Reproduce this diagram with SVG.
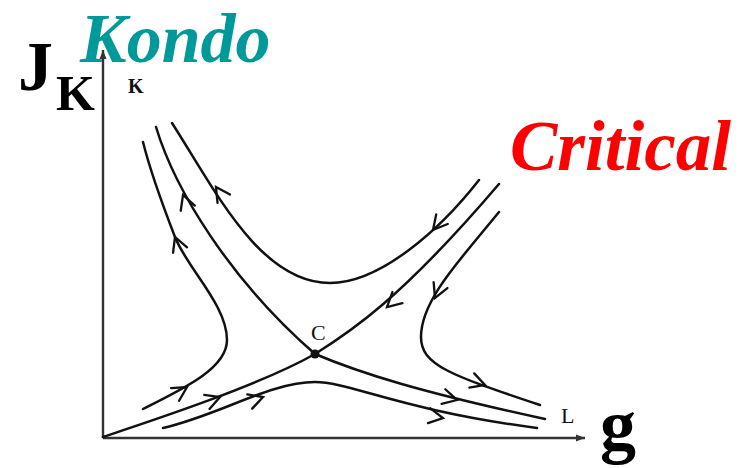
<svg xmlns="http://www.w3.org/2000/svg" width="746" height="468" viewBox="0 0 746 468">
<style>
.curve{fill:none;stroke:#111;stroke-width:2.5;stroke-linecap:round}
.arr{fill:none;stroke:none}
.axis{fill:none;stroke:#333;stroke-width:2.4}
.big{font-family:"Liberation Serif","Times New Roman",serif;font-weight:bold}
.small{font-family:"Liberation Serif","Times New Roman",serif;fill:#111}
</style>
<defs>
<marker id="a" markerUnits="userSpaceOnUse" viewBox="-16 -10 18 20" markerWidth="18" markerHeight="20" refX="0" refY="0" orient="auto" overflow="visible">
<path d="M-14,-7.5 L0,0 L-14,7.5" fill="none" stroke="#111" stroke-width="2.3" stroke-linecap="round" stroke-linejoin="miter"/>
</marker>
<marker id="t" markerUnits="userSpaceOnUse" viewBox="-8 -4 9 8" markerWidth="9" markerHeight="8" refX="0" refY="0" orient="auto" overflow="visible">
<path d="M-9,-3.5 L0,0 L-9,3.5 Z" fill="#333"/>
</marker>
</defs>
<g id="axes">
<path class="axis" d="M103,438 L103,50" marker-end="url(#t)"/>
<path class="axis" d="M103,438 L585,438" marker-end="url(#t)"/>
</g>
<g id="connectors">
<path class="curve" d="M143,409 C185,388 227,368 227,340 C227,305 187,268 175,237 C163,206 150,170 143,142"/>
<path class="curve" d="M156,127 C175,190 230,280 315,354 C360,373 420,392 545,419"/>
<path class="curve" d="M103,437 C160,418 260,385 315,354 C350,332 400,300 499,184"/>
<path class="curve" d="M172,123 C215,190 260,283 330,283 C380,283 440,230 479,180"/>
<path class="curve" d="M499,212 C460,260 421,300 421,337 C421,365 450,375 540,405"/>
<path class="curve" d="M163,428 C220,415 270,382 315,382 C350,382 400,410 537,428"/>
<path class="arr" d="M176.2,240.1 L175,237" marker-end="url(#a)"/>
<path class="arr" d="M183.8,389 L187,387" marker-end="url(#a)"/>
<path class="arr" d="M184.2,198.3 L183,195" marker-end="url(#a)"/>
<path class="arr" d="M218,190 L216,187" marker-end="url(#a)"/>
<path class="arr" d="M435.5,227 L433,230" marker-end="url(#a)"/>
<path class="arr" d="M390,304.3 L387,307" marker-end="url(#a)"/>
<path class="arr" d="M216.5,398.3 L220,397" marker-end="url(#a)"/>
<path class="arr" d="M436.5,294.5 L435,298" marker-end="url(#a)"/>
<path class="arr" d="M481.5,383.8 L485,385" marker-end="url(#a)"/>
<path class="arr" d="M453.5,399.1 L457,400" marker-end="url(#a)"/>
<path class="arr" d="M259.5,398.2 L263,397" marker-end="url(#a)"/>
<path class="arr" d="M439.4,417.4 L443,418" marker-end="url(#a)"/>
</g>
<g id="point-C">
<circle cx="315" cy="354" r="4.5" fill="#111"/>
<text class="small" x="311" y="340" font-size="22">C</text>
</g>
<g id="label-K-axis"><text class="small" x="128" y="93" font-size="20" font-weight="bold">K</text></g>
<g id="label-L"><text class="small" x="561" y="423" font-size="22">L</text></g>
<g id="label-JK">
<text class="big" x="18" y="90" font-size="70" fill="#000">J</text>
<text class="big" x="56" y="110" font-size="50" fill="#000">K</text>
</g>
<g id="label-g"><text class="big" x="600" y="450" font-size="72" fill="#000">g</text></g>
<g id="label-Kondo"><text class="big" x="80" y="62" font-size="70" font-style="italic" fill="#009999">Kondo</text></g>
<g id="label-Critical"><text class="big" x="510" y="170" font-size="71" font-style="italic" fill="#ff0000">Critical</text></g>
</svg>
